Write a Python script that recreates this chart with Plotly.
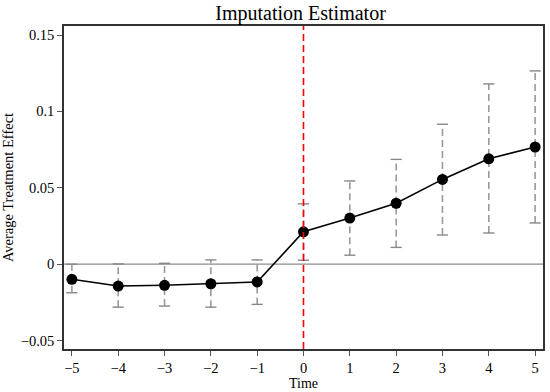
import plotly.graph_objects as go

time = [-5, -4, -3, -2, -1, 0, 1, 2, 3, 4, 5]
att = [-0.0099, -0.0143, -0.0138, -0.0128, -0.0116, 0.0212, 0.0302, 0.0399, 0.0555, 0.0690, 0.0767]
ci_low = [-0.0187, -0.0281, -0.0274, -0.0281, -0.0263, 0.0026, 0.0059, 0.0110, 0.0191, 0.0204, 0.0270]
ci_high = [0.0000, 0.0002, 0.0006, 0.0028, 0.0028, 0.0395, 0.0545, 0.0686, 0.0916, 0.1180, 0.1265]
x_ticks = [-5, -4, -3, -2, -1, 0, 1, 2, 3, 4, 5]
y_ticks = [-0.05, 0, 0.05, 0.1, 0.15]
y_tick_labels = ["\u22120.05", "0", "0.05", "0.1", "0.15"]
x_tick_labels = ["\u22125", "\u22124", "\u22123", "\u22122", "\u22121", "0", "1", "2", "3", "4", "5"]

font = "Liberation Serif"

ex, ey = [], []
for t, lo, hi in zip(time, ci_low, ci_high):
    ex += [t, t, None]
    ey += [lo, hi, None]

fig = go.Figure()
# zero line
fig.add_hline(y=0, line=dict(color="#8c8c8c", width=1.2), layer="below")
# CI dashed
fig.add_trace(go.Scatter(x=ex, y=ey, mode="lines",
                         line=dict(color="#9a9a9a", width=1.6, dash="7px,4px"),
                         hoverinfo="skip", showlegend=False))
# caps
fig.add_trace(go.Scatter(x=time + time, y=ci_low + ci_high, mode="markers",
                         marker=dict(symbol="line-ew", size=8,
                                     line=dict(color="#888888", width=1.4)),
                         hoverinfo="skip", showlegend=False))
# red vertical
fig.add_vline(x=0, line=dict(color="#ff0000", width=1.6, dash="7px,4px"))
# main line
fig.add_trace(go.Scatter(x=time, y=att, mode="lines+markers",
                         line=dict(color="black", width=1.6),
                         marker=dict(color="black", size=11),
                         showlegend=False))

fig.update_layout(
    width=550, height=392,
    margin=dict(l=55, r=5, t=26, b=43),
    paper_bgcolor="white", plot_bgcolor="white",
    font=dict(family=font, size=14, color="black"),
    title=dict(text="Imputation Estimator", x=0.5465, xanchor="center",
               y=0.985, yanchor="top", font=dict(family=font, size=20, color="black")),
)
fig.update_xaxes(range=[-5.17, 5.17], tickvals=x_ticks, ticktext=x_tick_labels,
                 showgrid=False, zeroline=False, ticks="outside", ticklen=5,
                 tickcolor="#555555", showline=True, linecolor="#333333", linewidth=1.5,
                 mirror=True, title=dict(text="Time", standoff=0,
                                         font=dict(family=font, size=14)),
                 tickfont=dict(family=font, size=14.5))
fig.update_yaxes(range=[-0.0555, 0.1559], tickvals=y_ticks, ticktext=y_tick_labels,
                 showgrid=False, zeroline=False, ticks="outside", ticklen=5,
                 tickcolor="#555555", showline=True, linecolor="#333333", linewidth=1.5,
                 mirror=True, title=dict(text="Average Treatment Effect", standoff=6,
                                         font=dict(family=font, size=14.5)),
                 tickfont=dict(family=font, size=14.5))

fig.write_html("out.html", config={"displayModeBar": False},
               post_script="document.body.style.margin='0';document.body.style.padding='0';document.body.style.overflow='hidden';")
